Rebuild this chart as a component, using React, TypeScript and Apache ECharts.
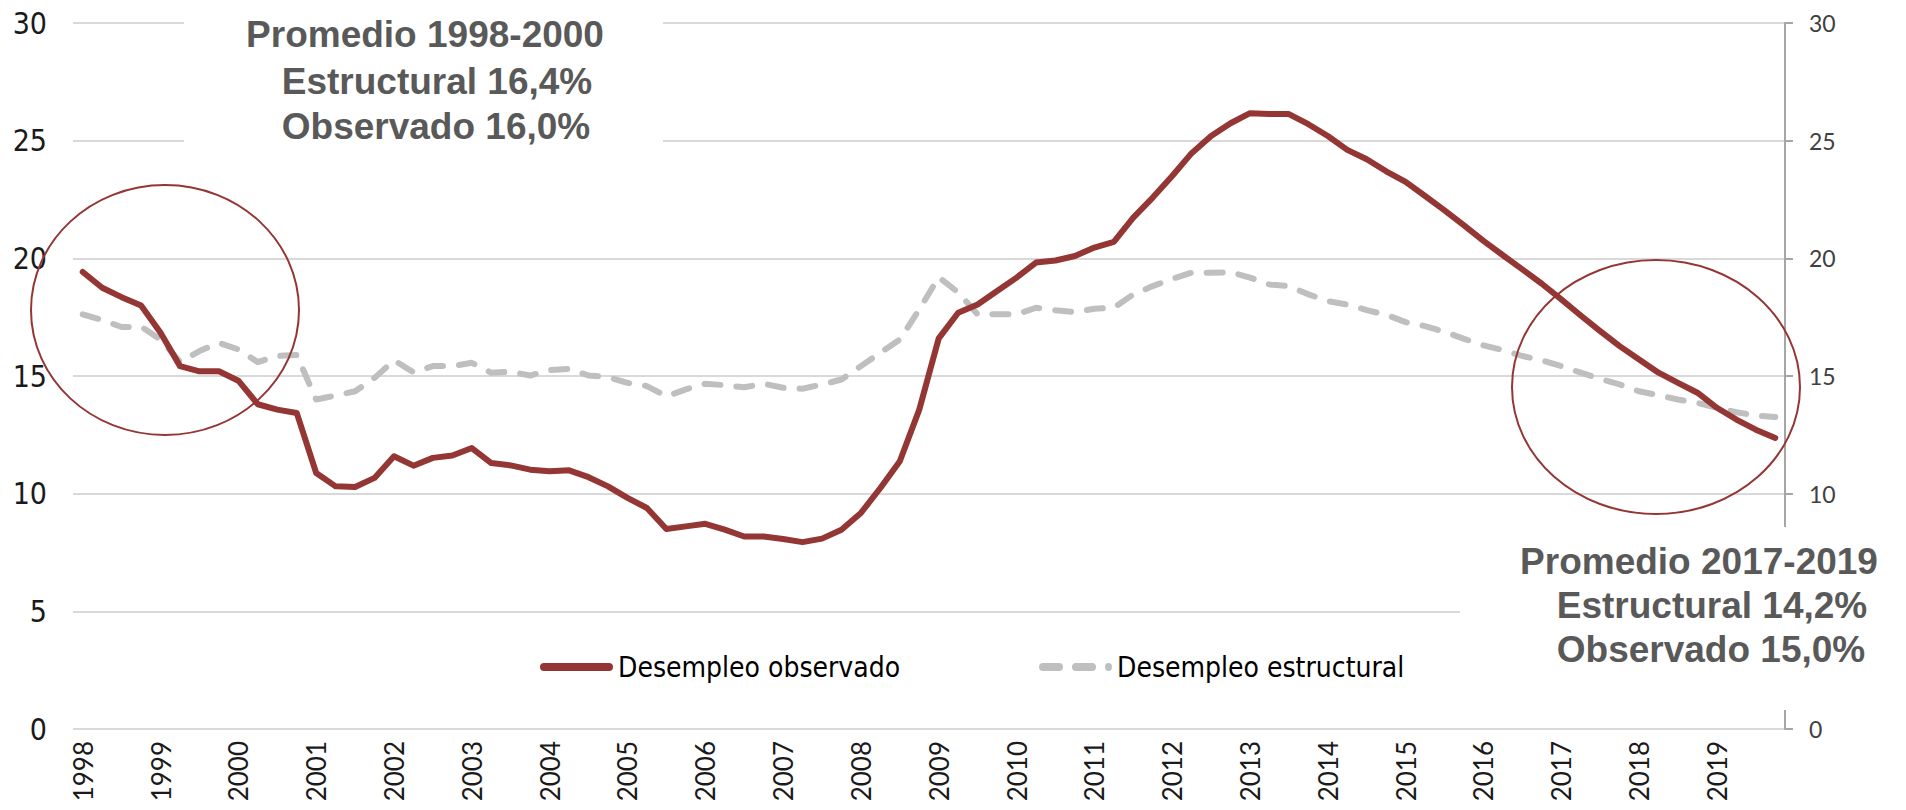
import React, { useEffect, useRef } from 'react';
import * as echarts from 'echarts';

const years = ['1998', '1999', '2000', '2001', '2002', '2003', '2004', '2005', '2006', '2007', '2008',
  '2009', '2010', '2011', '2012', '2013', '2014', '2015', '2016', '2017', '2018', '2019'];
const quarters = ['T1', 'T2', 'T3', 'T4'];
const categories = years.flatMap((y) => quarters.map((q) => `${y} ${q}`));

const observed = [
  19.42, 18.75, 18.35, 18.0, 16.84, 15.42, 15.2, 15.2, 14.8, 13.8, 13.57, 13.43,
  10.88, 10.31, 10.28, 10.67, 11.59, 11.19, 11.52, 11.62, 11.94, 11.3, 11.2, 11.02,
  10.95, 10.99, 10.7, 10.31, 9.82, 9.39, 8.5, 8.61, 8.72, 8.47, 8.18, 8.18,
  8.07, 7.94, 8.09, 8.47, 9.18, 10.24, 11.38, 13.57, 16.6, 17.69, 18.04, 18.61,
  19.18, 19.82, 19.91, 20.1, 20.46, 20.7, 21.73, 22.58, 23.5, 24.47, 25.2, 25.74,
  26.17, 26.13, 26.13, 25.7, 25.2, 24.61, 24.21, 23.7, 23.25, 22.65, 22.04, 21.4,
  20.74, 20.13, 19.53, 18.92, 18.26, 17.57, 16.91, 16.27, 15.7, 15.14, 14.71, 14.29,
  13.65, 13.15, 12.72, 12.37,
];

const structural = [
  17.62, 17.38, 17.08, 17.1, 16.55, 15.6, 16.06, 16.41, 16.13, 15.59, 15.85, 15.89,
  14.0, 14.17, 14.35, 14.92, 15.67, 15.16, 15.42, 15.42, 15.56, 15.14, 15.18, 15.02,
  15.25, 15.3, 15.02, 14.95, 14.71, 14.57, 14.14, 14.43, 14.67, 14.61, 14.52, 14.67,
  14.5, 14.46, 14.64, 14.85, 15.42, 15.99, 16.55, 17.83, 19.2, 18.55, 17.62, 17.62,
  17.62, 17.9, 17.79, 17.72, 17.86, 17.9, 18.47, 18.82, 19.13, 19.39, 19.39, 19.41,
  19.18, 18.89, 18.82, 18.47, 18.18, 18.04, 17.8, 17.6, 17.29, 17.12, 16.88, 16.58,
  16.3, 16.1, 15.85, 15.67, 15.42, 15.14, 14.88, 14.64, 14.35, 14.18, 14.0, 13.86,
  13.65, 13.46, 13.32, 13.26,
];

const seriesNames = ['Desempleo observado', 'Desempleo estructural'];
const noteLeft = ['Promedio 1998-2000', 'Estructural 16,4%', 'Observado 16,0%'];
const noteRight = ['Promedio 2017-2019', 'Estructural 14,2%', 'Observado 15,0%'];

const RED = '#943634';
const GRAY = '#bfbfbf';
const NARROW = '"Liberation Sans Narrow", "Arial Narrow", "DejaVu Sans Condensed", sans-serif';
const ROUND = 'Lato, "Noto Sans", sans-serif';

const ICON_SOLID = 'path://M4,0h65a4,4 0 0 1 0,8h-65a4,4 0 0 1 0,-8z';
const ICON_DASHED =
  'path://M4,0h16a4,4 0 0 1 0,8h-16a4,4 0 0 1 0,-8z' +
  'M37,0h16a4,4 0 0 1 0,8h-16a4,4 0 0 1 0,-8z' +
  'M66,4a3.5,4 0 1 0 7,0a3.5,4 0 1 0 -7,0z';

export default function App() {
  const ref = useRef<HTMLDivElement>(null);

  useEffect(() => {
    document.body.style.margin = '0';
    const chart = echarts.init(ref.current as HTMLDivElement, null, { renderer: 'svg' });

    const noteText = (text: string, x: number, y: number) => ({
      type: 'text',
      z: 102,
      x,
      y,
      style: {
        text,
        fill: '#595959',
        font: 'bold 37px "Liberation Sans", Arial, sans-serif',
        textAlign: 'center',
        textVerticalAlign: 'middle',
      },
    });

    const legendText = {
      fontFamily: NARROW,
      fontSize: 28,
      color: '#000000',
    };

    chart.setOption({
      animation: false,
      backgroundColor: '#ffffff',
      grid: { left: 73, right: 121, top: 23, bottom: 81, containLabel: false },
      legend: [
        {
          data: [{ name: seriesNames[0], icon: ICON_SOLID, itemStyle: { color: RED } }],
          left: 535,
          top: 648,
          itemWidth: 73,
          itemHeight: 8,
          textStyle: legendText,
        },
        {
          data: [{ name: seriesNames[1], icon: ICON_DASHED, itemStyle: { color: GRAY } }],
          left: 1034,
          top: 648,
          itemWidth: 73,
          itemHeight: 8,
          textStyle: legendText,
        },
      ],
      xAxis: {
        type: 'category',
        data: categories,
        boundaryGap: true,
        axisLine: { show: false },
        axisTick: { show: false },
        axisLabel: {
          interval: 3,
          rotate: 90,
          margin: 12,
          fontFamily: ROUND,
          fontSize: 26,
          color: '#1a1a1a',
          formatter: (v: string) => v.slice(0, 4),
        },
      },
      yAxis: [
        {
          type: 'value',
          min: 0,
          max: 30,
          interval: 5,
          position: 'left',
          axisLine: { show: false },
          axisTick: { show: false },
          axisLabel: {
            margin: 26,
            fontFamily: NARROW,
            fontSize: 30,
            color: '#1a1a1a',
          },
          splitLine: { show: true, lineStyle: { color: '#d9d9d9', width: 2 } },
        },
        {
          type: 'value',
          min: 0,
          max: 30,
          interval: 5,
          position: 'right',
          axisLine: { show: true, lineStyle: { color: '#a6a6a6', width: 2 } },
          axisTick: { show: true, length: 8, lineStyle: { color: '#a6a6a6', width: 2 } },
          axisLabel: {
            margin: 24,
            fontFamily: ROUND,
            fontSize: 23,
            color: '#404040',
            formatter: (v: number) => (v === 5 ? '' : String(v)),
          },
          splitLine: { show: false },
        },
      ],
      series: [
        {
          name: seriesNames[0],
          type: 'line',
          data: observed,
          yAxisIndex: 0,
          symbol: 'none',
          showSymbol: false,
          z: 3,
          lineStyle: { color: RED, width: 6, cap: 'round', join: 'round' },
          itemStyle: { color: RED },
        },
        {
          name: seriesNames[1],
          type: 'line',
          data: structural,
          yAxisIndex: 0,
          symbol: 'none',
          showSymbol: false,
          z: 2,
          lineStyle: { color: GRAY, width: 6, type: [16, 16], cap: 'round', join: 'round' },
          itemStyle: { color: GRAY },
        },
      ],
      graphic: [
        { type: 'rect', z: 100, shape: { x: 184, y: 0, width: 479, height: 165 }, style: { fill: '#ffffff' } },
        { type: 'rect', z: 100, shape: { x: 1460, y: 527, width: 446, height: 183 }, style: { fill: '#ffffff' } },
        {
          type: 'ellipse', z: 101,
          shape: { cx: 165, cy: 310, rx: 134, ry: 125 },
          style: { fill: 'transparent', stroke: RED, lineWidth: 2 },
        },
        {
          type: 'ellipse', z: 101,
          shape: { cx: 1656, cy: 387, rx: 144, ry: 127 },
          style: { fill: 'transparent', stroke: RED, lineWidth: 2 },
        },
        noteText(noteLeft[0], 425, 34),
        noteText(noteLeft[1], 437, 81),
        noteText(noteLeft[2], 436, 126),
        noteText(noteRight[0], 1699, 561),
        noteText(noteRight[1], 1712, 605),
        noteText(noteRight[2], 1711, 649),
      ],
    });

    return () => chart.dispose();
  }, []);

  return <div ref={ref} style={{ width: 1906, height: 810 }} />;
}
